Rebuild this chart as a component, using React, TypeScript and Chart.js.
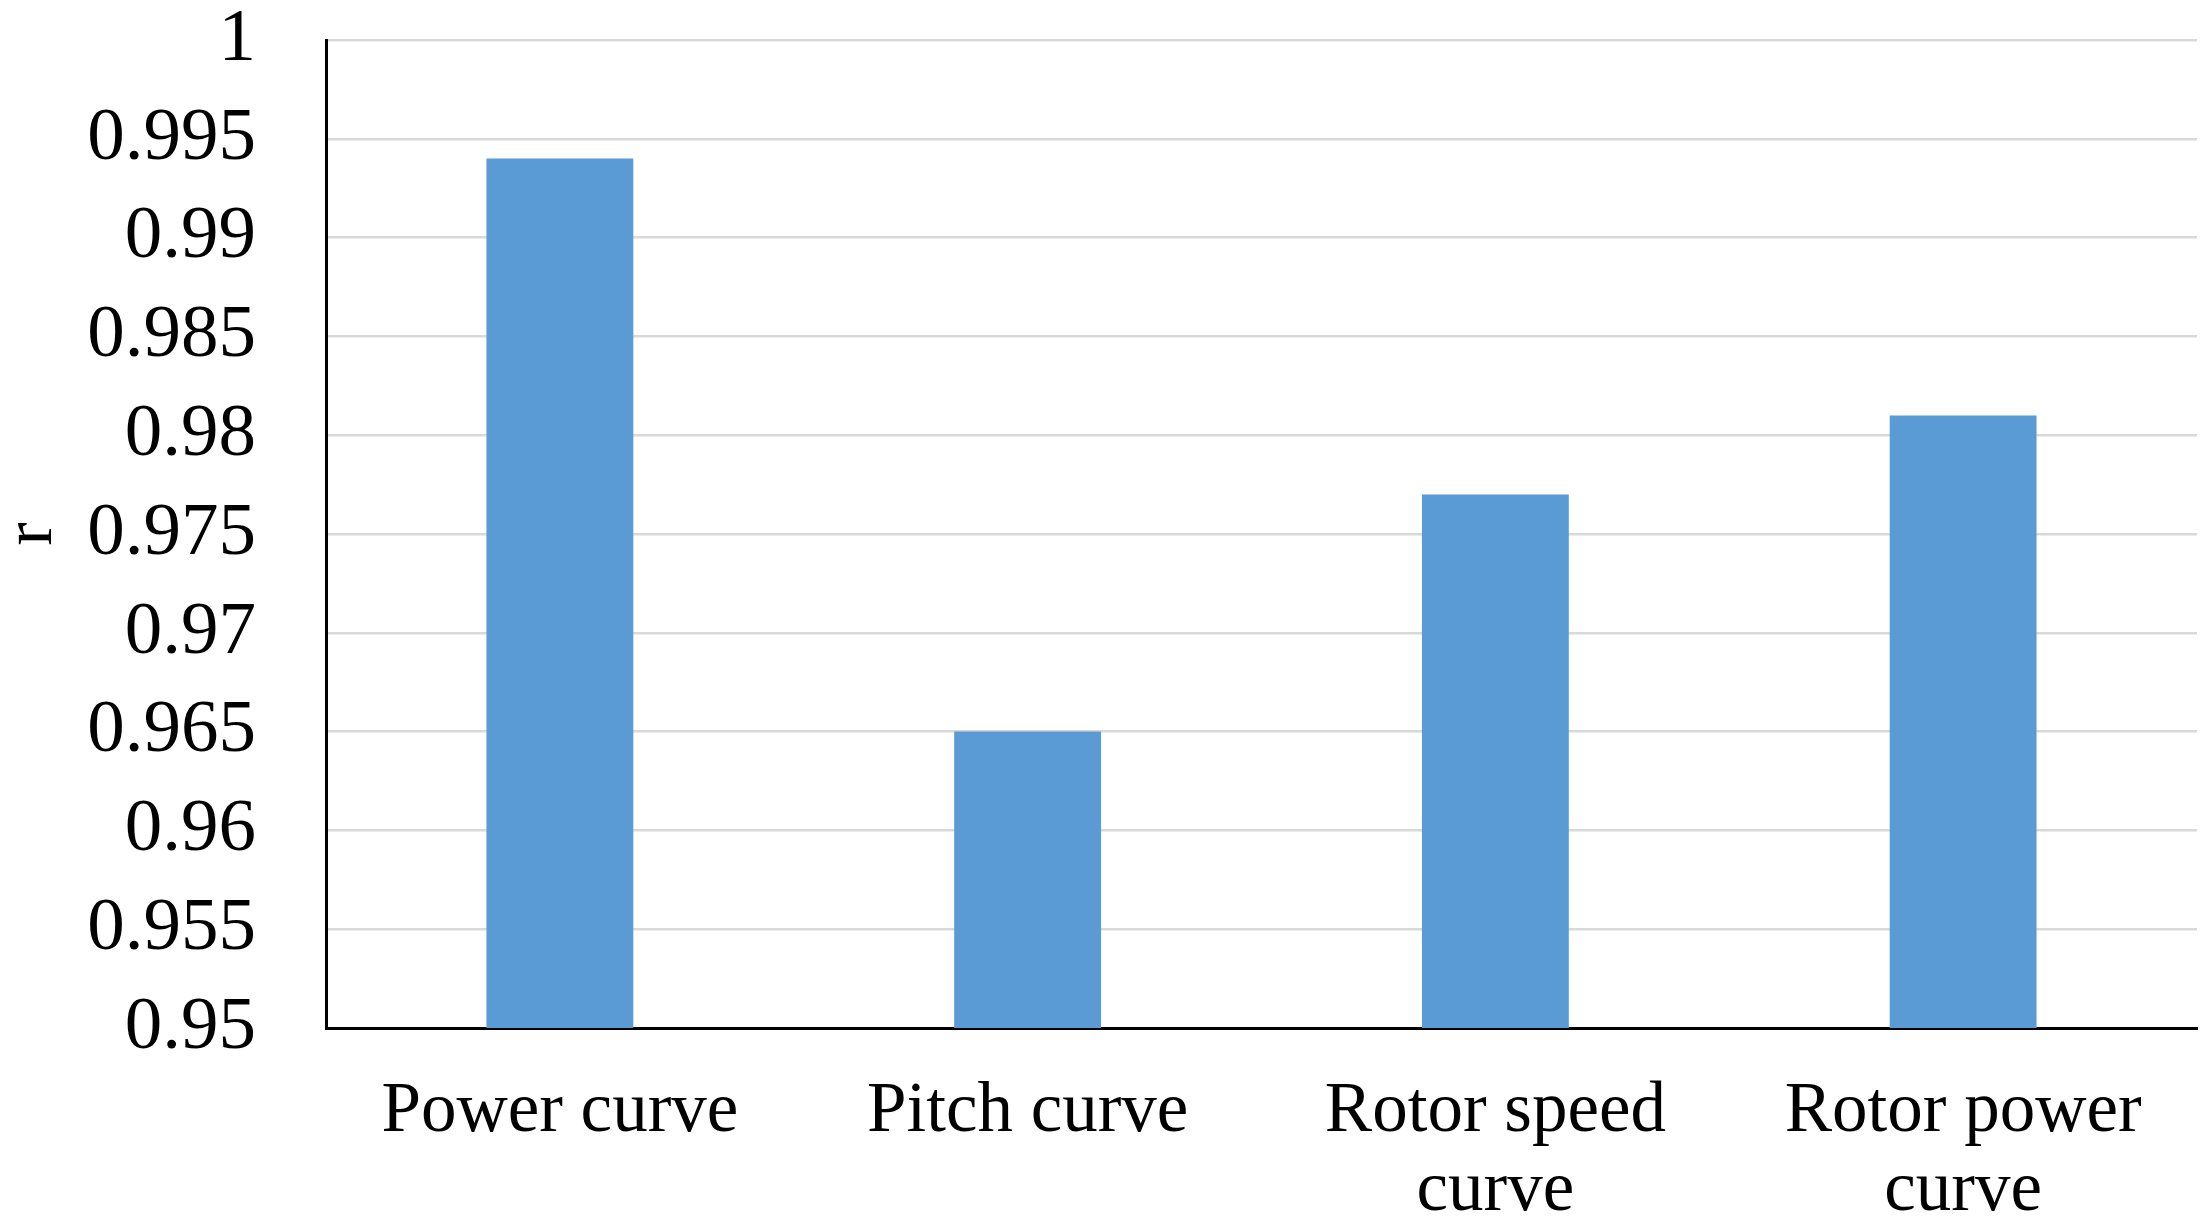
import React, { useEffect, useRef } from "react";
import { Chart, registerables } from "chart.js";

Chart.register(...registerables);

const categories: (string | string[])[] = [
  "Power curve",
  "Pitch curve",
  ["Rotor speed", "curve"],
  ["Rotor power", "curve"],
];
const rValues: number[] = [0.994, 0.965, 0.977, 0.981];
const yMin = 0.95;
const yMax = 1;
const yStep = 0.005;
const yTitle = "r";

const FONT = "'Liberation Serif', 'Times New Roman', serif";

export default function App() {
  const ref = useRef<HTMLCanvasElement | null>(null);

  useEffect(() => {
    document.body.style.margin = "0";
    const canvas = ref.current;
    if (!canvas) return;
    const chart = new Chart(canvas, {
      type: "bar",
      data: {
        labels: categories,
        datasets: [
          {
            label: "r",
            data: rValues,
            backgroundColor: "#5B9BD5",
            borderWidth: 0,
            categoryPercentage: 1,
            barPercentage: 0.314,
          },
        ],
      },
      options: {
        responsive: false,
        animation: false,
        maintainAspectRatio: false,
        layout: { padding: { left: 0, right: 14, top: 0, bottom: 0 } },
        plugins: {
          legend: { display: false },
          tooltip: { enabled: false },
          title: { display: false },
        },
        scales: {
          x: {
            z: 1,
            grid: { display: false, drawTicks: false },
            border: { display: true, color: "#000000", width: 3 },
            ticks: {
              color: "#000000",
              font: { family: FONT, size: 71, lineHeight: 1.11 },
              padding: 45,
              maxRotation: 0,
              minRotation: 0,
              autoSkip: false,
            },
            afterFit: (scale: any) => {
              scale.height = 195;
            },
          },
          y: {
            min: yMin,
            max: yMax,
            grid: { color: "#d9d9d9", lineWidth: 2.5, drawTicks: false },
            border: { display: true, color: "#000000", width: 3 },
            ticks: {
              stepSize: yStep,
              color: "#000000",
              font: { family: FONT, size: 75, lineHeight: 80 / 75 },
              padding: 70,
              callback: (v: any) => String(Number(Number(v).toFixed(3))),
            },
            title: {
              display: true,
              text: yTitle,
              color: "#000000",
              font: { family: FONT, size: 70, lineHeight: 1 },
              padding: { top: -2, bottom: 0 },
            },
            afterFit: (scale: any) => {
              scale.width = 326;
              scale.paddingTop = 40;
              scale.paddingBottom = 40;
            },
          },
        },
      },
    });
    return () => chart.destroy();
  }, []);

  return (
    <div style={{ position: "fixed", left: 0, top: 0, width: 2211, height: 1223, background: "#ffffff" }}>
      <canvas ref={ref} width={2211} height={1223} style={{ width: 2211, height: 1223, display: "block" }} />
    </div>
  );
}
